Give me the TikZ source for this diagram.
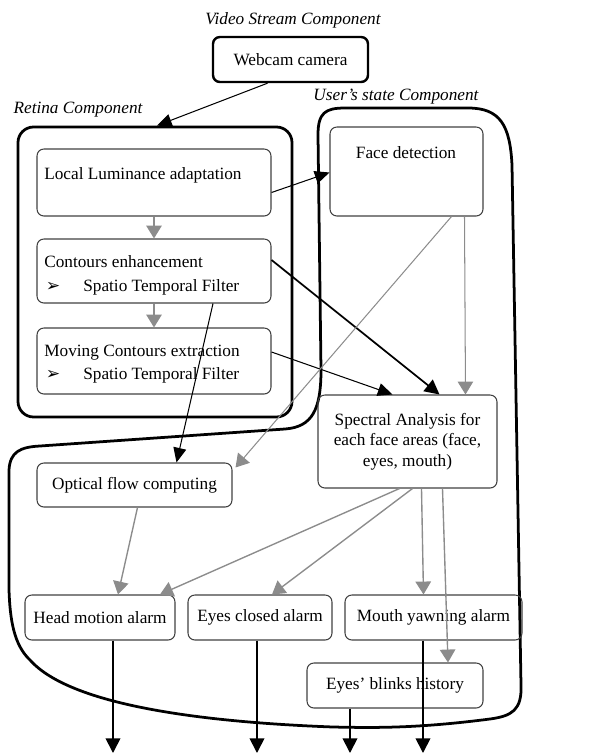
\documentclass[tikz,border=0pt]{standalone}
\usepackage{fontspec}
\setmainfont{Liberation Serif}
\newfontfamily\symfont{DejaVu Sans}
\usetikzlibrary{arrows.meta,fit,calc}

\begin{document}
\begin{tikzpicture}[x=0.58pt,y=-0.58pt,
		box/.style={draw=black!75, line width=0.6pt, rounded corners=4pt, inner sep=0pt},
		compbox/.style={draw, line width=1.6pt, rounded corners=9pt, inner sep=0pt},
		lbl/.style={font=\itshape},
		txt/.style={inner sep=0pt},
		garr/.style={draw=black!45, line width=0.8pt, -{Triangle[width=9pt,length=7.5pt]}},
		barr/.style={line width=0.6pt, -{Triangle[width=7.5pt,length=8.5pt]}},
		oarr/.style={line width=1pt, -{Triangle[width=8.5pt,length=8.5pt]}}]
	\useasboundingbox (0,0) rectangle (601,754);
	% component outlines
	\node[lbl] (vsl) at (293,20) {Video Stream Component};
	\node[box, draw=black, line width=1.4pt, fit={(213,37) (368,82)}, label={center:Webcam camera}] (cam) {};
	\node[lbl] (retl) at (78,110) {Retina Component};
	\node[compbox, fit={(18,127) (292,417)}] (retina) {};
	\node[lbl] (usl) at (396,97) {User's state Component};
	\draw[line width=1.6pt] (318,135) .. controls (318,113) and (325,108) .. (345,108) -- (468,108)
		.. controls (500,108) and (510,125) .. (512,165) -- (521,685)
		.. controls (522,710) and (512,716) .. (490,719) .. controls (420,728) and (380,728) .. (333,727)
		.. controls (200,722) and (70,705) .. (30,660) .. controls (14,645) and (10,620) .. (9,590)
		-- (9,470) .. controls (10,452) and (20,447) .. (40,446) -- (285,429)
		.. controls (312,427) and (321,410) .. (321,370) -- cycle;
	% retina boxes
	\node[box, fit={(37,149) (271,216)}] (lla) {};
	\node[txt, anchor=west] (llat) at (44,175) {Local Luminance adaptation};
	\node[box, fit={(37,239) (271,303)}] (ce) {};
	\node[txt, anchor=west] (cet) at (44,262) {Contours enhancement};
	\node[txt] (ceb) at (53,287) {\symfont ➢};
	\node[txt, anchor=west] (ces) at (83,287) {Spatio Temporal Filter};
	\node[box, fit={(37,328) (271,394)}] (mce) {};
	\node[txt, anchor=west] (mcet) at (44,353) {Moving Contours extraction};
	\node[txt] (mceb) at (53,375) {\symfont ➢};
	\node[txt, anchor=west] (mces) at (83,375) {Spatio Temporal Filter};
	% user's state boxes
	\node[box, fit={(330,127) (483,216)}] (face) {};
	\node[txt] (facet) at (406,153) {Face detection};
	\node[box, fit={(318,395) (497,488)}, label={[align=center]center:Spectral Analysis for\\each face areas (face,\\eyes, mouth)}] (spec) {};
	\node[box, fit={(37,463) (232,507)}, label={center:Optical flow computing}] (opt) {};
	\node[box, fit={(25,595) (175,640)}, label={center:Head motion alarm}] (head) {};
	\node[box, fit={(188,595) (332,640)}, label={center:Eyes closed alarm}] (eyes) {};
	\node[box, fit={(345,595) (522,640)}, label={center:Mouth yawning alarm}] (mouth) {};
	\node[box, fit={(307,663) (483,708)}, label={center:Eyes' blinks history}] (blink) {};
	% outputs
	\coordinate (out1) at (113,753);
	\coordinate (out2) at (257,753);
	\coordinate (out3) at (350,753);
	\coordinate (out4) at (423,753);
	% connectors
	\draw[barr] ($(cam.south)+(-23,0)$) -- ($(retina.north)+(2,0)$);
	\draw[garr] (lla) -- (ce);
	\draw[garr] (ce) -- (mce);
	\draw[barr] ($(lla.east)+(0,10)$) -- ($(face.west)+(0,1)$);
	\draw[oarr] ($(ce.east)+(0,-11)$) -- ($(spec.north)+(32,0)$);
	\draw[barr] ($(mce.east)+(0,-9)$) -- ($(spec.north)+(-15,0)$);
	\draw[garr, line width=0.6pt] ($(face.south)+(45,0)$) -- ($(opt.north east)+(3,5)$);
	\draw[garr, line width=0.6pt] ($(face.south)+(58,0)$) -- ($(spec.north)+(58,0)$);
	\draw[barr] ($(ce.south)+(59,0)$) -- ($(opt.north)+(42,0)$);
	\draw[garr] ($(opt.south)+(3,0)$) -- ($(head.north)+(18,0)$);
	\draw[garr] ($(spec.south)+(-8,0)$) -- ($(head.north)+(60,0)$);
	\draw[garr] ($(spec.south)+(5,0)$) -- ($(eyes.north)+(12,0)$);
	\draw[garr] ($(spec.south)+(14,0)$) -- ($(mouth.north)+(-10,0)$);
	\draw[garr] ($(spec.south)+(35,0)$) -- ($(blink.north)+(53,0)$);
	\draw[oarr] (out1 |- head.south) -- (out1);
	\draw[oarr] (out2 |- eyes.south) -- (out2);
	\draw[oarr] (out3 |- blink.south) -- (out3);
	\draw[oarr] (out4 |- mouth.south) -- (out4);
\end{tikzpicture}
\end{document}
